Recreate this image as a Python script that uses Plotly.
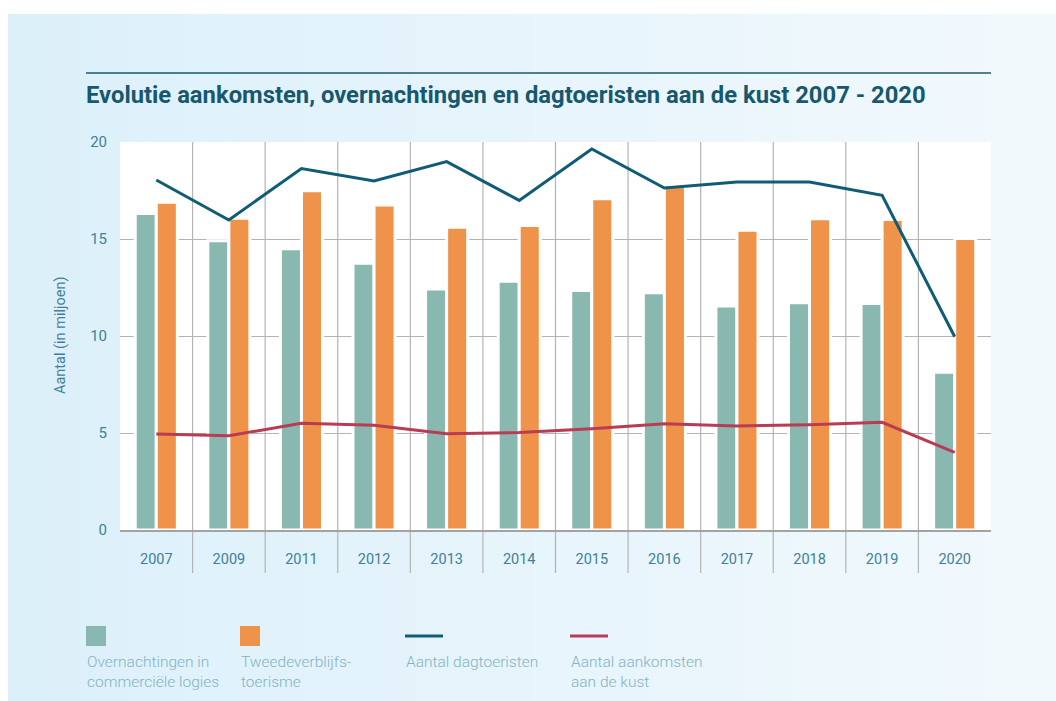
import plotly.graph_objects as go

# ---- data ----
years = ["2007", "2009", "2011", "2012", "2013", "2014", "2015", "2016", "2017", "2018", "2019", "2020"]
overnachtingen_commercieel = [16.32, 14.91, 14.50, 13.75, 12.42, 12.82, 12.34, 12.23, 11.55, 11.72, 11.68, 8.13]
tweedeverblijf = [16.90, 16.07, 17.49, 16.75, 15.60, 15.70, 17.08, 17.78, 15.45, 16.05, 16.01, 15.02]
dagtoeristen = [18.04, 15.98, 18.63, 17.99, 18.99, 16.99, 19.64, 17.63, 17.94, 17.94, 17.25, 9.96]
aankomsten = [4.95, 4.86, 5.50, 5.40, 4.96, 5.02, 5.22, 5.48, 5.36, 5.43, 5.55, 4.00]
y_ticks = [0, 5, 10, 15, 20]

title_text = "Evolutie aankomsten, overnachtingen en dagtoeristen aan de kust 2007 - 2020"
y_title = "Aantal (in miljoen)"
legend_items = [
    ("Overnachtingen in", "commerciële logies"),
    ("Tweedeverblijfs-", "toerisme"),
    ("Aantal dagtoeristen", ""),
    ("Aantal aankomsten", "aan de kust"),
]

# ---- style ----
W, H = 1056, 701
L, R, T, B = 120, 991, 142, 530
C_TEAL = "#88b8b0"
C_ORANGE = "#ee9349"
C_BLUE = "#0e5c76"
C_RED = "#b83c53"
C_TITLE = "#17586f"
C_TICK = "#3f7f9c"
C_LEG = "#84b3c5"
C_GRID = "#b4b4b4"
FONT = "Roboto"


def px(xp):
    return (xp - L) / (R - L)


def py(yp):
    return (B - yp) / (B - T)


def lerp_color(c1, c2, t):
    a = [int(c1[i:i + 2], 16) for i in (1, 3, 5)]
    b = [int(c2[i:i + 2], 16) for i in (1, 3, 5)]
    return "rgb(%d,%d,%d)" % tuple(round(a[k] + (b[k] - a[k]) * t) for k in range(3))


fig = go.Figure()
fig.add_trace(go.Bar(x=years, y=overnachtingen_commercieel, name=legend_items[0][0] + " " + legend_items[0][1],
                     marker=dict(color=C_TEAL, line=dict(color="white", width=3))))
fig.add_trace(go.Bar(x=years, y=tweedeverblijf, name="Tweedeverblijfstoerisme",
                     marker=dict(color=C_ORANGE, line=dict(color="white", width=3))))
fig.add_trace(go.Scatter(x=years, y=dagtoeristen, name="Aantal dagtoeristen", mode="lines",
                         line=dict(color=C_BLUE, width=3)))
fig.add_trace(go.Scatter(x=years, y=aankomsten, name="Aantal aankomsten aan de kust", mode="lines",
                         line=dict(color=C_RED, width=3)))

shapes = []
# gradient background panel
n = 60
x0p, x1p = 8, W
for i in range(n):
    a = x0p + (x1p - x0p) * i / n
    b = x0p + (x1p - x0p) * (i + 1) / n + 0.6
    shapes.append(dict(type="rect", xref="paper", yref="paper", x0=px(a), x1=px(b), y0=py(H + 2), y1=py(14),
                       fillcolor=lerp_color("#dcf0fa", "#f2f9fd", i / (n - 1)), line=dict(width=0), layer="below"))
# white plot area
shapes.append(dict(type="rect", xref="paper", yref="paper", x0=0, x1=1, y0=0, y1=1,
                   fillcolor="white", line=dict(width=0), layer="below"))
# category separators
for k in range(1, len(years)):
    xx = k / len(years)
    shapes.append(dict(type="line", xref="paper", yref="paper", x0=xx, x1=xx, y0=py(573), y1=1,
                       line=dict(color=C_GRID, width=1.2), layer="below"))
# title rule
shapes.append(dict(type="line", xref="paper", yref="paper", x0=px(86), x1=px(991), y0=py(73), y1=py(73),
                   line=dict(color=C_TITLE, width=1.5)))

# legend swatches
leg_x = [86, 240, 405, 570]
shapes.append(dict(type="rect", xref="paper", yref="paper", x0=px(86), x1=px(106), y0=py(646), y1=py(626),
                   fillcolor=C_TEAL, line=dict(width=0)))
shapes.append(dict(type="rect", xref="paper", yref="paper", x0=px(240), x1=px(260), y0=py(646), y1=py(626),
                   fillcolor=C_ORANGE, line=dict(width=0)))
shapes.append(dict(type="line", xref="paper", yref="paper", x0=px(405), x1=px(443), y0=py(636), y1=py(636),
                   line=dict(color=C_BLUE, width=3)))
shapes.append(dict(type="line", xref="paper", yref="paper", x0=px(570), x1=px(608), y0=py(636), y1=py(636),
                   line=dict(color=C_RED, width=3)))

annotations = [
    dict(text="<b>" + title_text + "</b>", xref="paper", yref="paper", x=px(84), y=py(95),
         xanchor="left", yanchor="middle", showarrow=False,
         font=dict(family=FONT, size=23.8, color=C_TITLE)),
    dict(text=y_title, xref="paper", yref="paper", x=px(60), y=0.5, textangle=-90,
         xanchor="center", yanchor="middle", showarrow=False,
         font=dict(family=FONT, size=14.5, color=C_TICK)),
]
for (l1, l2), xl in zip(legend_items, leg_x):
    annotations.append(dict(text=l1, xref="paper", yref="paper", x=px(xl - 1), y=py(662),
                            xanchor="left", yanchor="middle", showarrow=False,
                            font=dict(family=FONT, size=15.5, color=C_LEG, weight=300)))
    if l2:
        annotations.append(dict(text=l2, xref="paper", yref="paper", x=px(xl - 1), y=py(682),
                                xanchor="left", yanchor="middle", showarrow=False,
                                font=dict(family=FONT, size=15.5, color=C_LEG, weight=300)))

fig.update_layout(
    width=W, height=H, autosize=False,
    margin=dict(l=L, r=W - R, t=T, b=H - B, pad=0),
    paper_bgcolor="white", plot_bgcolor="rgba(0,0,0,0)",
    barmode="group", bargap=0.42, bargroupgap=0,
    showlegend=False,
    shapes=shapes, annotations=annotations,
    font=dict(family=FONT, size=14, color=C_TICK),
    xaxis=dict(type="category", showgrid=False, zeroline=False, showline=True, linecolor="#a3a3a3",
               linewidth=1.5, ticks="", ticklabelstandoff=15,
               tickfont=dict(family=FONT, size=14.5, color=C_TICK), fixedrange=True),
    yaxis=dict(range=[0, 20], tickvals=y_ticks, showgrid=True, gridcolor=C_GRID, gridwidth=1.2,
               zeroline=False, showline=False, ticks="", ticklabelstandoff=12,
               tickfont=dict(family=FONT, size=15, color=C_TICK), fixedrange=True),
)

fig.write_html("out.html")
